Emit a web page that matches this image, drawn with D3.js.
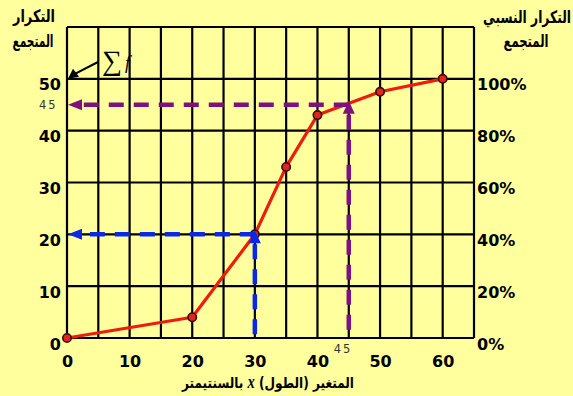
<!DOCTYPE html>
<html>
<head>
<meta charset="utf-8">
<script src="https://cdn.jsdelivr.net/npm/d3@7"></script>
<style>
  html, body { margin: 0; padding: 0; background: #ffff9e; }
  svg { display: block; }
</style>
</head>
<body>
<svg id="chart" width="573" height="396"></svg>
<script>
// Cumulative frequency curve (ogive): length x in cm vs cumulative frequency
const lengths    = [0, 20, 30, 35, 40, 50, 60];
const cumFreq    = [0, 4, 20, 33, 43, 47.5, 50];
const xTicks     = [0, 10, 20, 30, 40, 50, 60];
const yTicks     = [0, 10, 20, 30, 40, 50];
const pctLabels  = ["0%", "20%", "40%", "60%", "80%", "100%"];
// Readings taken from the curve: [x, cumulative frequency]
const readLow    = [30, 20];
const readHigh   = [45, 45];
const totalF     = 50;

const svg = d3.select("#chart");
const W = 573, H = 396;
svg.append("rect").attr("width", W).attr("height", H).attr("fill", "#ffff9e");

const x = d3.scaleLinear().domain([0, 65]).range([67, 474]);
const y = d3.scaleLinear().domain([0, 60]).range([338, 27]);

// Grid (every 5 cm vertically, every 10 units horizontally)
const grid = svg.append("g").attr("stroke", "#000").attr("stroke-width", 2.2);
grid.selectAll("line.v").data(d3.range(0, 66, 5)).join("line")
  .attr("x1", d => x(d)).attr("x2", d => x(d))
  .attr("y1", y(0)).attr("y2", y(60));
grid.selectAll("line.h").data(d3.range(0, 61, 10)).join("line")
  .attr("x1", x(0)).attr("x2", x(65))
  .attr("y1", d => y(d)).attr("y2", d => y(d));

// Axes: labels only
const tickFont = sel => sel.selectAll("text")
  .attr("font-family", "DejaVu Sans").attr("font-weight", "bold")
  .attr("font-size", 16).attr("fill", "#000");

const gx = svg.append("g").attr("transform", `translate(0,${y(0)})`)
  .call(d3.axisBottom(x).tickValues(xTicks).tickSize(0).tickPadding(18));
gx.select(".domain").remove();
tickFont(gx);

const gl = svg.append("g").attr("transform", `translate(${x(0)},6)`)
  .call(d3.axisLeft(y).tickValues(yTicks).tickSize(0).tickPadding(6));
gl.select(".domain").remove();
tickFont(gl);

const gr = svg.append("g").attr("transform", `translate(${x(65)},6)`)
  .call(d3.axisRight(y).tickValues(yTicks).tickSize(0).tickPadding(3)
    .tickFormat((d, i) => pctLabels[i]));
gr.select(".domain").remove();
tickFont(gr);

// Ogive
const pts = lengths.map((d, i) => [d, cumFreq[i]]);
svg.append("path").datum(pts)
  .attr("fill", "none").attr("stroke", "#ee1c0c").attr("stroke-width", 3.2)
  .attr("stroke-linejoin", "round")
  .attr("d", d3.line().x(d => x(d[0])).y(d => y(d[1])));
svg.selectAll("circle.pt").data(pts).join("circle")
  .attr("cx", d => x(d[0])).attr("cy", d => y(d[1])).attr("r", 4.2)
  .attr("fill", "#e0261c").attr("stroke", "#3a0a0a").attr("stroke-width", 1.6);

// Dashed reading lines with arrowheads
function reading(pt, color) {
  const px = x(pt[0]), py = y(pt[1]);
  const g = svg.append("g");
  g.append("line").attr("x1", px).attr("y1", py).attr("x2", x(0) + 12).attr("y2", py)
    .attr("stroke", color).attr("stroke-width", 4.5).attr("stroke-dasharray", "15,10");
  g.append("line").attr("x1", px).attr("y1", py + 10).attr("x2", px).attr("y2", y(0))
    .attr("stroke", color).attr("stroke-width", 4.5).attr("stroke-dasharray", "15,10");
  // left-pointing head at the frequency axis
  g.append("path").attr("fill", color)
    .attr("d", `M${x(0) + 1},${py} L${x(0) + 15},${py - 5.5} L${x(0) + 15},${py + 5.5} Z`);
  // up-pointing head at the curve
  g.append("path").attr("fill", color)
    .attr("d", `M${px},${py - 4} L${px - 6},${py + 9} L${px + 6},${py + 9} Z`);
}
reading(readLow, "#0a28e6");
reading(readHigh, "#80107e");

// Value labels for the upper reading
const small = { "font-family": "DejaVu Sans", "font-size": 11.5, "fill": "#333", "letter-spacing": 2 };
const t45a = svg.append("text").attr("x", 39).attr("y", y(readHigh[1]) + 4).text(readHigh[1]);
const t45b = svg.append("text").attr("x", x(readHigh[0]) - 15).attr("y", 353).text(readHigh[0]);
[t45a, t45b].forEach(t => Object.entries(small).forEach(([k, v]) => t.attr(k, v)));

// Σf annotation pointing at the total
svg.append("line").attr("x1", 98).attr("y1", 62).attr("x2", x(0) + 6).attr("y2", y(totalF) - 4)
  .attr("stroke", "#000").attr("stroke-width", 2);
svg.append("path").attr("fill", "#000")
  .attr("d", `M${x(0) + 1},${y(totalF)} L${x(0) + 6},${y(totalF) - 10} L${x(0) + 12},${y(totalF) - 2} Z`);
svg.append("text").attr("x", 102).attr("y", 70)
  .attr("font-family", "Liberation Serif").attr("font-size", 28).attr("fill", "#000").text("∑");
svg.append("text").attr("x", 125).attr("y", 69)
  .attr("font-family", "Liberation Serif").attr("font-style", "italic")
  .attr("font-size", 18).attr("fill", "#000").text("f");

// Squeeze a text horizontally about its centre so it spans the given width
function fitWidth(t, cx, width) {
  const w = t.node().getComputedTextLength();
  if (w > 0) t.attr("transform", `translate(${cx},0) scale(${width / w},1) translate(${-cx},0)`);
}

// Axis titles (Arabic)
const arabic = (tx, ty, str, width) => {
  const t = svg.append("text")
    .attr("x", tx).attr("y", ty).attr("text-anchor", "middle").attr("direction", "rtl")
    .attr("font-family", "DejaVu Sans").attr("font-weight", "bold")
    .attr("font-size", 17).attr("fill", "#000").text(str);
  fitWidth(t, tx, width);
  return t;
};
arabic(34, 22, "التكرار", 42);
arabic(33, 47, "المتجمع", 41);
arabic(527, 23, "التكرار النسبي", 88);
arabic(526, 47, "المتجمع", 45);

const xt = svg.append("text").attr("x", 268).attr("y", 388)
  .attr("text-anchor", "middle").attr("direction", "rtl")
  .attr("font-family", "DejaVu Sans").attr("font-weight", "bold")
  .attr("font-size", 15).attr("fill", "#000");
xt.append("tspan").text("المتغير (الطول) ");
xt.append("tspan").attr("font-family", "Liberation Serif").attr("font-style", "italic")
  .attr("font-size", 18).text("x");
xt.append("tspan").text(" بالسنتيمتر");
fitWidth(xt, 268, 172);
</script>
</body>
</html>
